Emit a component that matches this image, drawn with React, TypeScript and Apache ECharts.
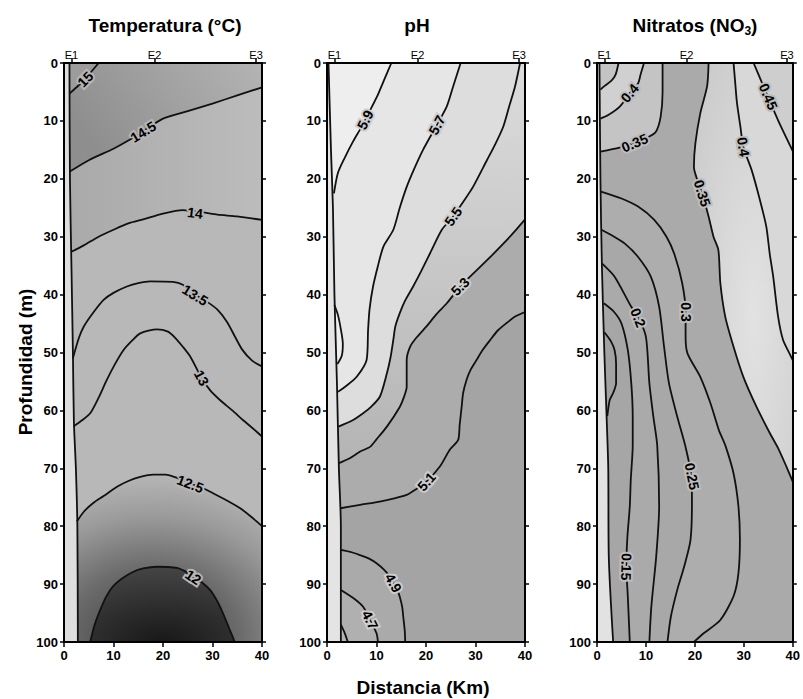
import React, { useEffect, useRef } from "react";
import * as echarts from "echarts";

const FONT = '"Liberation Sans", Arial, Helvetica, sans-serif';

// ---------- shared axis data ----------
const stationNames = ["E1", "E2", "E3"];
const stationKm = [1.5, 18.3, 38.8];
const panelTitles = ["Temperatura (°C)", "pH", "Nitratos (NO{sub|3})"];
const yAxisTitle = "Profundidad (m)";
const xAxisTitle = "Distancia (Km)";

type Pt = number[];

// ---------- Temperatura (°C): contour lines [distance km, depth m] ----------
const temp15: Pt[] = [[1.1, 5.3], [3, 3.8], [5, 2], [7, 0]];
const temp145: Pt[] = [[1.1, 18.8], [5, 16.8], [10, 14.8], [13, 13.4], [16, 11.8], [20, 9.6], [25, 8.3], [30, 7], [35, 5.6], [40, 4.2]];
const temp14: Pt[] = [[1.5, 32.6], [4, 31.5], [7, 30], [10, 28.8], [13, 27.7], [16, 27], [20, 26], [24, 25.4], [28, 25.8], [31, 26.2], [35, 26.5], [40, 27.1]];
const temp135: Pt[] = [[1.8, 51], [3, 47.5], [4, 45.5], [6, 43], [8, 40.9], [10, 39.7], [12.7, 38.6], [15, 38], [17.4, 37.7], [22, 37.8], [24, 38.3], [26.5, 40], [29, 41.3], [31, 42.6], [33, 44.8], [34.5, 47.2], [36, 49.5], [38, 51.4], [40, 52.4]];
const temp13: Pt[] = [[1.9, 62.8], [3.5, 61.8], [5.3, 60.5], [7, 57.8], [8.6, 54.8], [10.3, 52], [12, 49.6], [13.7, 48], [15.4, 46.7], [18.8, 46], [21, 46.4], [22.5, 47.5], [24, 49], [25.5, 50.7], [27.8, 54.4], [29.5, 56.5], [31.5, 58.2], [34, 60], [36.2, 61.7], [38, 63], [40, 64.5]];
const temp125: Pt[] = [[2.6, 79.2], [4, 77.5], [5.9, 76], [8, 74.8], [10.7, 73.2], [13, 72.2], [15.4, 71.5], [18, 71.1], [20.5, 71.1], [23, 71.7], [25.5, 72.6], [28, 73.4], [30.1, 74.3], [33, 75.6], [35.6, 76.9], [38, 78.5], [40, 80]];
const temp12: Pt[] = [[5.3, 100], [6.2, 97], [7.3, 94.5], [8.5, 92.2], [9.9, 90.4], [11.8, 89], [13.9, 87.9], [16, 87.3], [18.8, 87], [22.8, 87.2], [24.5, 87.8], [26.1, 88.7], [28, 89.8], [29.5, 91], [31, 93], [32.1, 95], [33.3, 97.5], [34.5, 100]];
const tempBlank: Pt[] = [[1.1, 0], [1.2, 20], [1.5, 35], [1.8, 50], [2, 62], [2.4, 70], [2.7, 80], [2.8, 100]];
const tempLabels: [string, number, number][] = [
  ["15", 4.3, 2.8], ["14.5", 16, 11.9], ["14", 26.5, 25.9], ["13.5", 26.5, 40.1],
  ["13", 27.8, 54.4], ["12.5", 25.5, 72.7], ["12", 26.1, 88.8],
];

// ---------- pH ----------
const ph59: Pt[] = [[13, 0], [11.5, 3], [10, 6], [8.5, 8.5], [7, 11], [5.3, 13.5], [3.5, 16.5], [2.2, 19], [1.4, 22.5]];
const ph57: Pt[] = [[27, 0], [25.5, 4], [24.2, 7.5], [22.2, 10.7], [19.4, 15], [17.5, 18.5], [16.1, 21.4], [14.7, 25], [13.4, 28.8], [11.4, 31.7], [10.3, 35], [9.3, 38.6], [8.6, 42.5], [8.3, 46.1], [8, 51.3], [6, 54.2], [4, 55.7], [2.2, 56.8]];
const ph55: Pt[] = [[39, 0], [38, 4], [36.8, 7.5], [35.6, 11], [34, 14], [32.3, 16.8], [29.5, 21.4], [27.5, 24], [25.5, 26.5], [23.2, 28.8], [20.8, 32.9], [19, 36], [17.4, 38.6], [15.8, 41], [14.7, 43.2], [13.8, 45.5], [13.4, 47.8], [12.8, 51], [12.1, 53.6], [10.7, 57.6], [9, 59.3], [7.3, 60.5], [5, 61.8], [2.3, 62.8]];
const ph53: Pt[] = [[40, 27], [38, 29], [36.3, 30.6], [33, 33.5], [30, 36], [26.9, 38.6], [24.2, 41.5], [22, 43.5], [20.1, 45.5], [18, 47.5], [16.8, 49], [16.1, 51.3], [16.1, 55.9], [15.5, 57.8], [14.7, 59.4], [12.1, 62.8], [10, 65], [8.7, 66.3], [6.7, 67.1], [4.5, 68.3], [2.4, 69.1]];
const ph51: Pt[] = [[40, 43], [38, 43.8], [36.3, 44.9], [34.5, 46.2], [33, 47.8], [31.5, 49.5], [30.2, 51.3], [29, 53], [28.2, 54.7], [27.5, 57], [27.2, 59.4], [26.8, 62.5], [26.5, 65.1], [24.8, 66.8], [22.8, 69.7], [20.1, 72.3], [18, 73.6], [16.1, 74.6], [12.1, 75.5], [9, 76], [6.7, 76.3], [2.7, 76.9]];
const ph49: Pt[] = [[2.8, 84.1], [5, 84.5], [6.7, 85], [8.5, 85.6], [10, 86.4], [11.5, 87.5], [12.6, 88.6], [13.4, 89.8], [14.2, 91], [14.7, 92.2], [15.2, 94], [15.4, 95.6], [15.7, 98], [15.8, 100]];
const ph47: Pt[] = [[2.8, 91], [5.3, 92.4], [7.3, 93.9], [8.7, 96.2], [10, 98.5], [10.3, 100]];
const ph45: Pt[] = [[2.8, 97], [3.6, 98.5], [4.2, 100]];
const phLoop: Pt[] = [[1.5, 41.8], [2.2, 43.5], [2.8, 46], [3.2, 48.5], [3, 50.5], [2.1, 52]];
const phBlank: Pt[] = [[0.3, 0], [0.8, 15], [1.2, 25], [1.5, 40], [2, 55], [2.4, 70], [2.8, 80], [2.8, 100]];
const phLabels: [string, number, number][] = [
  ["5.9", 7.7, 9.8], ["5.7", 22.2, 10.7], ["5.5", 25.5, 26.5], ["5.3", 26.9, 38.6],
  ["5.1", 20.1, 72.3], ["4.9", 13.4, 89.8], ["4.7", 8.7, 96.2],
];

// ---------- Nitratos (NO3) ----------
const no3045a: Pt[] = [[4.4, 0], [3.8, 2], [3, 3], [1.5, 4], [0.7, 4.6]];
const no3040a: Pt[] = [[9.6, 0], [8.9, 2], [8.4, 3.5], [6.7, 5.2], [4.7, 7.5], [2.3, 9], [0.7, 9.6]];
const no3035a: Pt[] = [[13.4, 0], [13.4, 5], [13, 9.3], [12, 11.9], [10, 13], [7.7, 13.8], [4.6, 14.6], [0.7, 15.3]];
const no3035b: Pt[] = [[22.8, 0], [22.5, 4], [21.1, 8.7], [20.1, 13.9], [19.8, 17.9], [21.5, 22.5], [22.8, 26.5], [23.8, 30], [24.8, 32.3], [25.2, 38], [26.2, 43.8], [27.9, 49], [29.9, 54.2], [32.6, 59.4], [35.3, 63.9], [37, 66.5], [38.7, 69.7], [40, 72.3]];
const no3040b: Pt[] = [[27.9, 0], [28.2, 3], [28.6, 6.9], [29.3, 11], [29.9, 14.5], [31.6, 18.5], [33.3, 23.7], [34.6, 28.3], [35.3, 33], [36, 36.9], [37, 43.8], [38, 47.8], [39.3, 50.1], [40, 51.3]];
const no3045b: Pt[] = [[32, 0], [33.5, 3], [35, 6], [37, 9.9], [39.3, 14], [40, 15.2]];
const no3030: Pt[] = [[0.8, 22.2], [5, 23.4], [8.4, 24.8], [11.7, 27.1], [14.2, 30], [15.8, 33], [17.4, 38], [18.1, 42.9], [18.1, 47.3], [18.5, 50.2], [21.1, 54.2], [23.2, 58.8], [24.9, 63.4], [26.2, 66], [27.9, 70.9], [28.9, 76.6], [29.2, 82.3], [28.9, 88.1], [27.9, 92.1], [25.2, 96.2], [21.8, 98.5], [19.8, 100]];
const no3025: Pt[] = [[0.9, 28.8], [3.5, 30], [5.7, 31.2], [8.4, 33.5], [11, 36.9], [12.7, 42.1], [13.7, 49], [14.7, 55.3], [16.4, 61.1], [18, 66], [19.3, 71.5], [19.4, 76], [19.1, 82.4], [17.8, 87], [16.4, 91], [15.1, 95.6], [14.4, 100]];
const no3020: Pt[] = [[1, 34.6], [3.6, 36.9], [7, 42.1], [8.4, 43.8], [10, 47.3], [10.7, 55.3], [11.5, 61], [12.3, 66], [12.7, 76.6], [12.1, 85.2], [11.1, 93.9], [10.7, 100]];
const no3015: Pt[] = [[1.4, 41.5], [3.5, 43], [5, 45], [6.3, 49.6], [7, 55.3], [7.3, 61], [7.3, 66], [6.9, 72], [6.7, 76.6], [6.2, 82], [6, 87], [6.3, 92.2], [6.7, 100]];
const no3010: Pt[] = [[1.5, 46.5], [2.8, 48], [3.6, 49.6], [3.9, 52], [3.9, 55.3], [3.3, 57], [2.6, 58.2], [2.1, 61]];
const no3Blank: Pt[] = [[0.5, 0], [0.7, 20], [1, 35], [1.5, 50], [2, 62], [2.3, 70], [2.4, 85], [3.3, 100]];
const no3Labels: [string, number, number][] = [
  ["0.4", 6.7, 5.2], ["0.35", 7.7, 13.8], ["0.35", 21.5, 22.5], ["0.4", 29.9, 14.5],
  ["0.45", 35, 5.8], ["0.3", 18.1, 43], ["0.2", 8.4, 44], ["0.25", 19.4, 71.4], ["0.15", 6, 87],
];

// ---------- helpers ----------
const last = (a: Pt[]) => a[a.length - 1];
const lin = (x0: number, y0: number, x1: number, y1: number, c0: string, c1: string) =>
  new echarts.graphic.LinearGradient(x0, y0, x1, y1, [{ offset: 0, color: c0 }, { offset: 1, color: c1 }]);
const rad = (cx: number, cy: number, r: number, stops: [number, string][]) =>
  new echarts.graphic.RadialGradient(cx, cy, r, stops.map(([offset, color]) => ({ offset, color })));

const FULL: Pt[] = [[0, 0], [40, 0], [40, 100], [0, 100]];

function buildFills() {
  const temp = [
    { pts: FULL, color: "#b8b8b8" },
    { pts: [...temp14, [40, 0], [0, 0], [0, temp14[0][1]]], color: lin(0, 0, 1, 0, "#a9a9a9", "#bcbcbc") },
    { pts: [...temp145, [40, 0], [0, 0], [0, temp145[0][1]]], color: lin(0, 0.4, 1, 0, "#8e8e8e", "#b4b4b4") },
    { pts: [...temp15, [0, 0], [0, temp15[0][1]]], color: "#9c9c9c" },
    { pts: [...temp125, [40, 100], [0, 100], [0, temp125[0][1]]], color: rad(0.45, 1, 1, [[0, "#383838"], [0.45, "#6c6c6c"], [0.75, "#9a9a9a"], [1, "#b6b6b6"]]) },
    { pts: temp12, color: rad(0.5, 1, 1, [[0, "#181818"], [1, "#454545"]]) },
    { pts: [...tempBlank, [0, 100], [0, 0]], color: "#dedede" },
  ];
  const ph = [
    { pts: FULL, color: "#a4a4a4" },
    { pts: [...ph51, [0, last(ph51)[1]], [0, 0], [40, 0]], color: "#acacac" },
    { pts: [...ph53, [0, last(ph53)[1]], [0, 0], [40, 0]], color: lin(0, 0, 0, 1, "#dcdcdc", "#b4b4b4") },
    { pts: [...ph55, [0, last(ph55)[1]], [0, 0]], color: "#dddddd" },
    { pts: [...ph57, [0, last(ph57)[1]], [0, 0]], color: "#e6e6e6" },
    { pts: [...ph59, [0, last(ph59)[1]], [0, 0]], color: "#eeeeee" },
    { pts: phLoop, color: "#eeeeee" },
    { pts: [...ph49, [0, 100], [0, ph49[0][1]]], color: "#aaaaaa" },
    { pts: [...ph47, [0, 100], [0, ph47[0][1]]], color: "#b0b0b0" },
    { pts: [...ph45, [0, 100], [0, ph45[0][1]]], color: "#b4b4b4" },
    { pts: [...phBlank, [0, 100], [0, 0]], color: "#e4e4e4" },
  ];
  const no3 = [
    { pts: FULL, color: "#aaaaaa" },
    { pts: [...no3035b, [40, 0]], color: rad(0.6, 0.6, 0.8, [[0, "#e2e2e2"], [1, "#cacaca"]]) },
    { pts: [...no3040b, [40, 0]], color: "#d8d8d8" },
    { pts: [...no3045b, [40, 0]], color: "#cecece" },
    { pts: [...no3035a, [0, last(no3035a)[1]], [0, 0]], color: "#c4c4c4" },
    { pts: [...no3040a, [0, last(no3040a)[1]], [0, 0]], color: "#d0d0d0" },
    { pts: [...no3045a, [0, last(no3045a)[1]], [0, 0]], color: "#c4c4c4" },
    { pts: [...no3030, [0, 100], [0, no3030[0][1]]], color: "#adadad" },
    { pts: [...no3025, [0, 100], [0, no3025[0][1]]], color: "#a8a8a8" },
    { pts: [...no3020, [0, 100], [0, no3020[0][1]]], color: "#aaaaaa" },
    { pts: [...no3015, [0, 100], [0, no3015[0][1]]], color: "#a6a6a6" },
    { pts: [...no3010, [0, last(no3010)[1]], [0, no3010[0][1]]], color: "#a2a2a2" },
    { pts: [...no3Blank, [0, 100], [0, 0]], color: "#e2e2e2" },
  ];
  return [temp, ph, no3];
}

const panelContours: Pt[][][] = [
  [temp15, temp145, temp14, temp135, temp13, temp125, temp12, tempBlank],
  [ph59, ph57, ph55, ph53, ph51, ph49, ph47, ph45, phLoop, phBlank],
  [no3045a, no3040a, no3035a, no3035b, no3040b, no3045b, no3030, no3025, no3020, no3015, no3010, no3Blank],
];
const panelLabels = [tempLabels, phLabels, no3Labels];
const haloColors = ["#b6b6b6", "#cdcdcd", "#bdbdbd"];

function segDist(c: number[], a: number[], b: number[]) {
  const dx = b[0] - a[0], dy = b[1] - a[1];
  const L = dx * dx + dy * dy || 1;
  let t = ((c[0] - a[0]) * dx + (c[1] - a[1]) * dy) / L;
  t = Math.max(0, Math.min(1, t));
  const px = a[0] + t * dx, py = a[1] + t * dy;
  return (px - c[0]) ** 2 + (py - c[1]) ** 2;
}

function buildOption() {
  const fills = buildFills();
  const lefts = [64, 327, 597];
  const grid = lefts.map((left) => ({ left, top: 63, width: 198, height: 579 }));
  const axisLine = { show: true, onZero: false, lineStyle: { color: "#000", width: 2 } };
  const tick = (len: number) => ({ show: true, inside: false, length: len, lineStyle: { color: "#000", width: 1.5 } });
  const xAxis: any[] = [];
  const yAxis: any[] = [];
  const series: any[] = [];
  for (let i = 0; i < 3; i++) {
    xAxis.push({
      gridIndex: i, type: "value", min: 0, max: 40, interval: 10, position: "bottom", z: 10,
      axisLine, axisTick: tick(5), splitLine: { show: false },
      axisLabel: { color: "#000", fontSize: 13, fontWeight: "bold", fontFamily: FONT, margin: 7 },
    });
    xAxis.push({
      gridIndex: i, type: "value", min: 0, max: 40, position: "top", z: 10,
      axisLine, splitLine: { show: false },
      axisTick: { ...tick(5), customValues: stationKm },
      axisLabel: {
        customValues: stationKm, color: "#000", fontSize: 11, fontFamily: FONT, margin: 3,
        formatter: (v: number) => {
          let k = 0;
          stationKm.forEach((s, j) => { if (Math.abs(s - v) < Math.abs(stationKm[k] - v)) k = j; });
          return stationNames[k];
        },
      },
    });
    yAxis.push({
      gridIndex: i, type: "value", min: 0, max: 100, interval: 10, inverse: true, position: "left", z: 10,
      axisLine, axisTick: tick(4), splitLine: { show: false },
      axisLabel: { color: "#000", fontSize: 13, fontWeight: "bold", fontFamily: FONT, margin: 6 },
    });
    yAxis.push({
      gridIndex: i, type: "value", min: 0, max: 100, interval: 10, inverse: true, position: "right", z: 10,
      axisLine, axisTick: tick(4), splitLine: { show: false }, axisLabel: { show: false },
    });

    const fl = fills[i];
    series.push({
      type: "custom", coordinateSystem: "cartesian2d", xAxisIndex: i * 2, yAxisIndex: i * 2,
      silent: true, z: 1, clip: true,
      data: fl.map((_, k) => [k % 40, 50]),
      renderItem: (params: any, api: any) => {
        const f = fl[params.dataIndex];
        return { type: "polygon", shape: { points: f.pts.map((p) => api.coord(p)) }, style: { fill: f.color } };
      },
    });
    panelContours[i].forEach((line) => {
      series.push({
        type: "line", xAxisIndex: i * 2, yAxisIndex: i * 2, data: line, symbol: "none", showSymbol: false,
        smooth: 0.25, silent: true, z: 3, lineStyle: { color: "#111", width: 1.8 },
      });
    });
    const labs = panelLabels[i];
    const contours = panelContours[i];
    const halo = haloColors[i];
    series.push({
      type: "custom", coordinateSystem: "cartesian2d", xAxisIndex: i * 2, yAxisIndex: i * 2,
      silent: true, z: 5, clip: false,
      data: labs.map((l) => [l[1], l[2]]),
      renderItem: (params: any, api: any) => {
        const lab = labs[params.dataIndex];
        const c = api.coord([lab[1], lab[2]]);
        let best = Infinity, ang = 0;
        contours.forEach((line) => {
          const px = line.map((p) => api.coord(p));
          for (let k = 0; k < px.length - 1; k++) {
            const d = segDist(c, px[k], px[k + 1]);
            if (d < best) { best = d; ang = Math.atan2(px[k + 1][1] - px[k][1], px[k + 1][0] - px[k][0]); }
          }
        });
        const lim = (100 * Math.PI) / 180;
        if (ang > lim) ang -= Math.PI;
        if (ang <= lim - Math.PI) ang += Math.PI;
        const base: any = {
          text: lab[0], fontSize: 14, fontWeight: "bold", fontFamily: FONT,
          align: "center", verticalAlign: "middle", textAlign: "center", textVerticalAlign: "middle",
        };
        return {
          type: "group", x: c[0], y: c[1], rotation: -ang,
          children: [
            { type: "text", style: { ...base, fill: halo, stroke: halo, lineWidth: 4 } },
            { type: "text", style: { ...base, fill: "#000" } },
          ],
        };
      },
    });
  }

  const titleStyle = (text: string) => ({
    text, fill: "#000", fontSize: 19, fontWeight: "bold", fontFamily: FONT, lineHeight: 24,
    align: "center", verticalAlign: "middle", textAlign: "center", textVerticalAlign: "middle",
    rich: { sub: { fontSize: 12, fontWeight: "bold", fontFamily: FONT, verticalAlign: "bottom", lineHeight: 24, fill: "#000" } },
  });
  const titleX = [165, 417, 695];
  const graphic: any[] = panelTitles.map((t, i) => ({ type: "text", x: titleX[i], y: 25, style: titleStyle(t), z: 20 }));
  graphic.push({ type: "text", x: 25, y: 362, rotation: Math.PI / 2, style: titleStyle(yAxisTitle), z: 20 });
  graphic.push({ type: "text", x: 423, y: 687, style: titleStyle(xAxisTitle), z: 20 });

  return { animation: false, backgroundColor: "#ffffff", grid, xAxis, yAxis, series, graphic };
}

export default function App() {
  const ref = useRef<HTMLDivElement>(null);
  useEffect(() => {
    if (!ref.current) return;
    const chart = echarts.init(ref.current, undefined, { renderer: "svg" });
    chart.setOption(buildOption() as any);
    return () => chart.dispose();
  }, []);
  return (
    <div
      ref={ref}
      style={{ position: "fixed", left: 0, top: 0, width: 803, height: 699, background: "#fff" }}
    />
  );
}
